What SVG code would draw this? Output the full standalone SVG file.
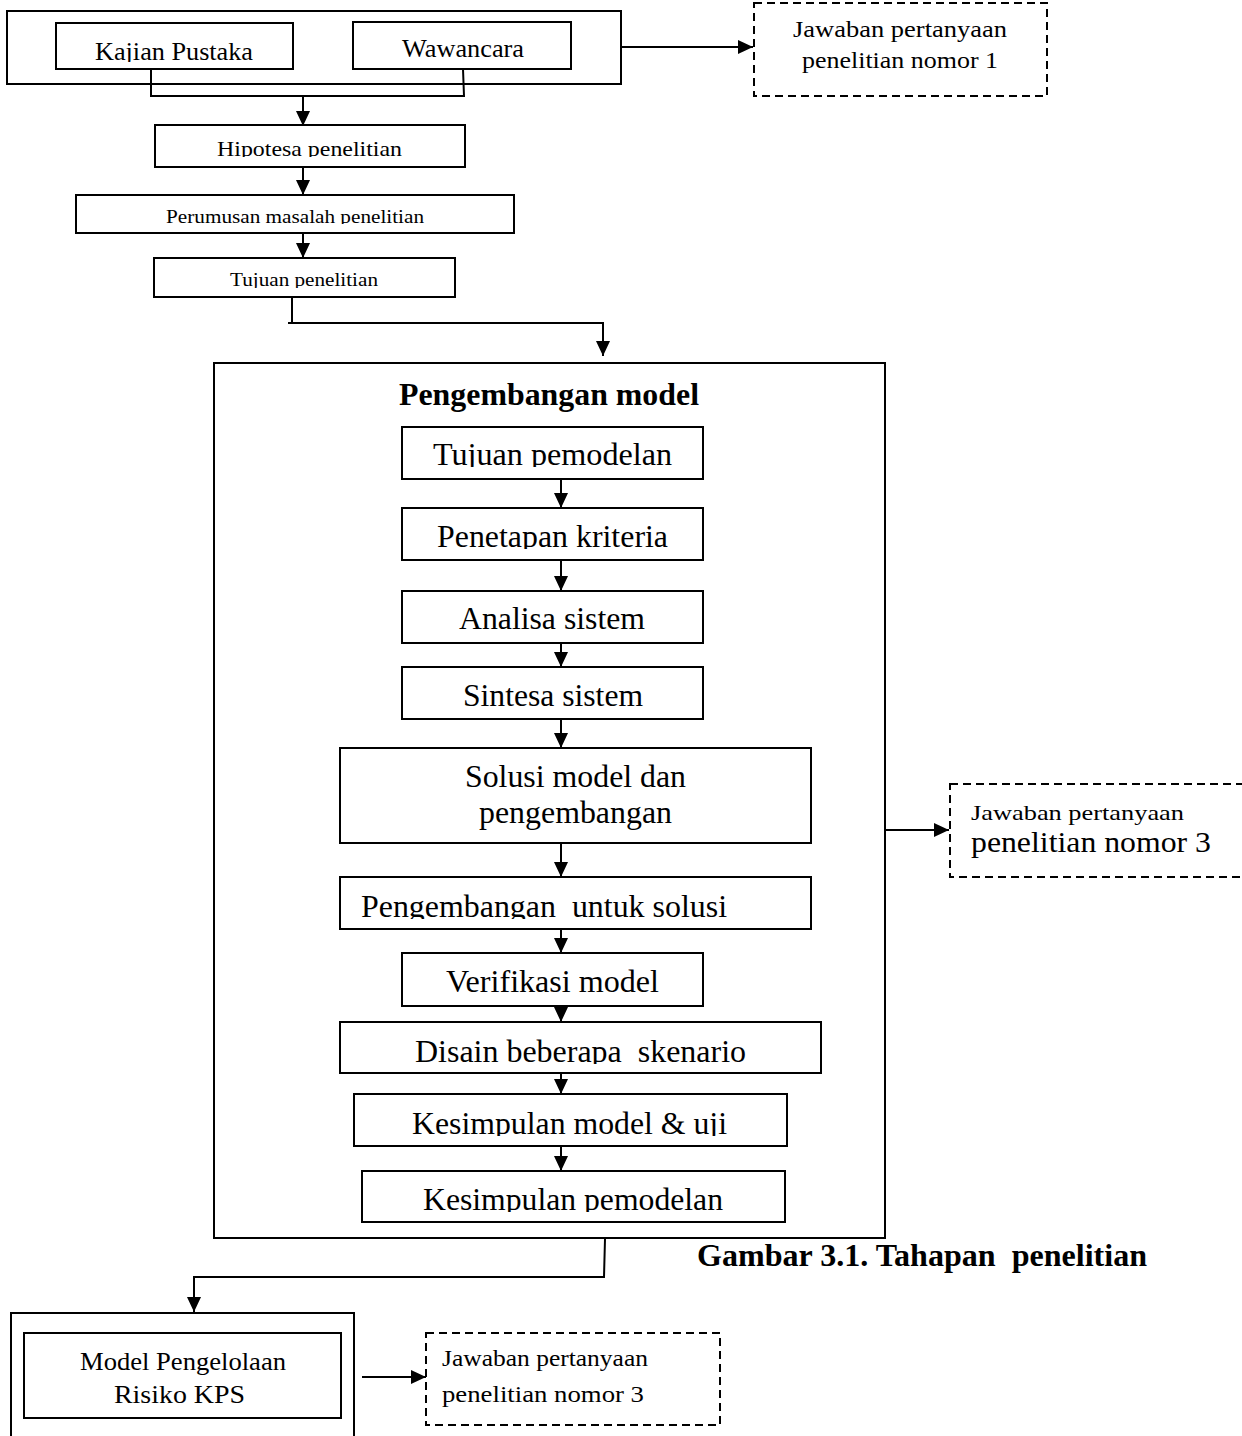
<svg xmlns="http://www.w3.org/2000/svg" width="1242" height="1436" viewBox="0 0 1242 1436">
<style>
.box{fill:#fff;stroke:#000;stroke-width:2}
.dash{fill:#fff;stroke:#000;stroke-width:2;stroke-dasharray:8 5}
.ln{fill:none;stroke:#000;stroke-width:2}
.t{font-family:"Liberation Serif","Times New Roman",Tinos,"Nimbus Roman",serif;fill:#000}
.b{font-family:"Liberation Serif","Times New Roman",Tinos,"Nimbus Roman",serif;font-weight:bold;fill:#000}
</style>
<defs>
<marker id="ah" markerUnits="userSpaceOnUse" markerWidth="15" markerHeight="14" refX="15" refY="7" orient="auto">
<path d="M0,0 L15,7 L0,14 Z" fill="#000"/>
</marker>
<clipPath id="cKaj"><rect x="56" y="23" width="237" height="39"/></clipPath>
<clipPath id="cHip"><rect x="155" y="125" width="310" height="32"/></clipPath>
<clipPath id="cPer"><rect x="76" y="195" width="438" height="29"/></clipPath>
<clipPath id="cTup"><rect x="154" y="258" width="301" height="30"/></clipPath>
<clipPath id="cTpm"><rect x="402" y="427" width="301" height="40"/></clipPath>
<clipPath id="cPen"><rect x="402" y="508" width="301" height="41"/></clipPath>
<clipPath id="cPus"><rect x="340" y="877" width="471" height="42"/></clipPath>
<clipPath id="cDis"><rect x="340" y="1022" width="481" height="42"/></clipPath>
<clipPath id="cKmu"><rect x="354" y="1094" width="433" height="42"/></clipPath>
<clipPath id="cKpm"><rect x="362" y="1171" width="423" height="41"/></clipPath>
</defs>

<g id="sumber-data">
<rect class="box" x="7" y="11" width="614" height="73"/>
</g>
<g id="kajian-pustaka">
<rect class="box" x="56" y="23" width="237" height="46"/>
<text class="t" x="95" y="60" font-size="26" textLength="158" lengthAdjust="spacingAndGlyphs" clip-path="url(#cKaj)">Kajian Pustaka</text>
</g>
<g id="wawancara">
<rect class="box" x="353" y="22" width="218" height="47"/>
<text class="t" x="402" y="57" font-size="26" textLength="122" lengthAdjust="spacingAndGlyphs">Wawancara</text>
</g>
<g id="jawaban-1">
<rect class="dash" x="754" y="3" width="293" height="93"/>
<text class="t" x="793" y="37" font-size="23" textLength="214" lengthAdjust="spacingAndGlyphs">Jawaban pertanyaan</text>
<text class="t" x="802" y="68" font-size="23" textLength="196" lengthAdjust="spacingAndGlyphs">penelitian nomor 1</text>
</g>
<g id="hipotesa">
<rect class="box" x="155" y="125" width="310" height="42"/>
<text class="t" x="217" y="156" font-size="21" textLength="185" lengthAdjust="spacingAndGlyphs" clip-path="url(#cHip)">Hipotesa penelitian</text>
</g>
<g id="perumusan">
<rect class="box" x="76" y="195" width="438" height="38"/>
<text class="t" x="166" y="223" font-size="19" textLength="258" lengthAdjust="spacingAndGlyphs" clip-path="url(#cPer)">Perumusan masalah penelitian</text>
</g>
<g id="tujuan-penelitian">
<rect class="box" x="154" y="258" width="301" height="39"/>
<text class="t" x="230" y="286" font-size="19" textLength="148" lengthAdjust="spacingAndGlyphs" clip-path="url(#cTup)">Tujuan penelitian</text>
</g>

<g id="pengembangan-model">
<rect class="box" x="214" y="363" width="671" height="875"/>
<text class="b" x="399" y="405" font-size="32" textLength="300" lengthAdjust="spacingAndGlyphs">Pengembangan model</text>
</g>
<g id="tujuan-pemodelan">
<rect class="box" x="402" y="427" width="301" height="52"/>
<text class="t" x="433" y="465" font-size="32" textLength="239" lengthAdjust="spacingAndGlyphs" clip-path="url(#cTpm)">Tujuan pemodelan</text>
</g>
<g id="penetapan-kriteria">
<rect class="box" x="402" y="508" width="301" height="52"/>
<text class="t" x="437" y="547" font-size="32" textLength="231" lengthAdjust="spacingAndGlyphs" clip-path="url(#cPen)">Penetapan kriteria</text>
</g>
<g id="analisa-sistem">
<rect class="box" x="402" y="591" width="301" height="52"/>
<text class="t" x="459" y="629" font-size="32" textLength="186" lengthAdjust="spacingAndGlyphs">Analisa sistem</text>
</g>
<g id="sintesa-sistem">
<rect class="box" x="402" y="667" width="301" height="52"/>
<text class="t" x="463" y="706" font-size="32" textLength="180" lengthAdjust="spacingAndGlyphs">Sintesa sistem</text>
</g>
<g id="solusi-model">
<rect class="box" x="340" y="748" width="471" height="95"/>
<text class="t" x="465" y="787" font-size="32" textLength="221" lengthAdjust="spacingAndGlyphs">Solusi model dan</text>
<text class="t" x="479" y="823" font-size="32" textLength="193" lengthAdjust="spacingAndGlyphs">pengembangan</text>
</g>
<g id="pengembangan-solusi">
<rect class="box" x="340" y="877" width="471" height="52"/>
<text class="t" x="361" y="917" font-size="32" textLength="366" lengthAdjust="spacingAndGlyphs" xml:space="preserve" clip-path="url(#cPus)">Pengembangan  untuk solusi</text>
</g>
<g id="verifikasi-model">
<rect class="box" x="402" y="953" width="301" height="53"/>
<text class="t" x="446" y="992" font-size="32" textLength="213" lengthAdjust="spacingAndGlyphs">Verifikasi model</text>
</g>
<g id="disain-skenario">
<rect class="box" x="340" y="1022" width="481" height="51"/>
<text class="t" x="415" y="1062" font-size="32" textLength="331" lengthAdjust="spacingAndGlyphs" xml:space="preserve" clip-path="url(#cDis)">Disain beberapa  skenario</text>
</g>
<g id="kesimpulan-model-uji">
<rect class="box" x="354" y="1094" width="433" height="52"/>
<text class="t" x="412" y="1134" font-size="32" textLength="315" lengthAdjust="spacingAndGlyphs" clip-path="url(#cKmu)">Kesimpulan model &amp; uji</text>
</g>
<g id="kesimpulan-pemodelan">
<rect class="box" x="362" y="1171" width="423" height="51"/>
<text class="t" x="423" y="1210" font-size="32" textLength="300" lengthAdjust="spacingAndGlyphs" clip-path="url(#cKpm)">Kesimpulan pemodelan</text>
</g>
<g id="jawaban-3a">
<rect class="dash" x="950" y="784" width="300" height="93"/>
<text class="t" x="971" y="820" font-size="22" textLength="213" lengthAdjust="spacingAndGlyphs">Jawaban pertanyaan</text>
<text class="t" x="971" y="852" font-size="30" textLength="240" lengthAdjust="spacingAndGlyphs">penelitian nomor 3</text>
</g>

<g id="caption">
<text class="b" x="697" y="1266" font-size="32" textLength="450" lengthAdjust="spacingAndGlyphs" xml:space="preserve">Gambar 3.1. Tahapan  penelitian</text>
</g>

<g id="model-outer">
<rect class="box" x="11" y="1313" width="343" height="140"/>
</g>
<g id="model-pengelolaan">
<rect class="box" x="24" y="1333" width="317" height="85"/>
<text class="t" x="80" y="1370" font-size="25" textLength="206" lengthAdjust="spacingAndGlyphs">Model Pengelolaan</text>
<text class="t" x="114" y="1403" font-size="25" textLength="131" lengthAdjust="spacingAndGlyphs">Risiko KPS</text>
</g>
<g id="jawaban-3b">
<rect class="dash" x="426" y="1333" width="294" height="92"/>
<text class="t" x="442" y="1366" font-size="24" textLength="206" lengthAdjust="spacingAndGlyphs">Jawaban pertanyaan</text>
<text class="t" x="442" y="1402" font-size="24" textLength="202" lengthAdjust="spacingAndGlyphs">penelitian nomor 3</text>
</g>

<g id="connectors">
<path class="ln" d="M151,69 V96 H464 L463,69"/>
<path class="ln" d="M303,96 V126" marker-end="url(#ah)"/>
<path class="ln" d="M621,47 H753" marker-end="url(#ah)"/>
<path class="ln" d="M303,167 V195" marker-end="url(#ah)"/>
<path class="ln" d="M303,233 V258" marker-end="url(#ah)"/>
<path class="ln" d="M292,297 V323 M288,323 H603 V356" marker-end="url(#ah)"/>
<path class="ln" d="M561,479 V508" marker-end="url(#ah)"/>
<path class="ln" d="M561,560 V591" marker-end="url(#ah)"/>
<path class="ln" d="M561,643 V667" marker-end="url(#ah)"/>
<path class="ln" d="M561,719 V748" marker-end="url(#ah)"/>
<path class="ln" d="M561,843 V877" marker-end="url(#ah)"/>
<path class="ln" d="M561,929 V953" marker-end="url(#ah)"/>
<path class="ln" d="M561,1006 V1022" marker-end="url(#ah)"/>
<path class="ln" d="M561,1073 V1094" marker-end="url(#ah)"/>
<path class="ln" d="M561,1146 V1171" marker-end="url(#ah)"/>
<path class="ln" d="M885,830 H949" marker-end="url(#ah)"/>
<path class="ln" d="M605,1239 L604,1277 H194 V1312" marker-end="url(#ah)"/>
<path class="ln" d="M362,1377 H426" marker-end="url(#ah)"/>
</g>
</svg>
